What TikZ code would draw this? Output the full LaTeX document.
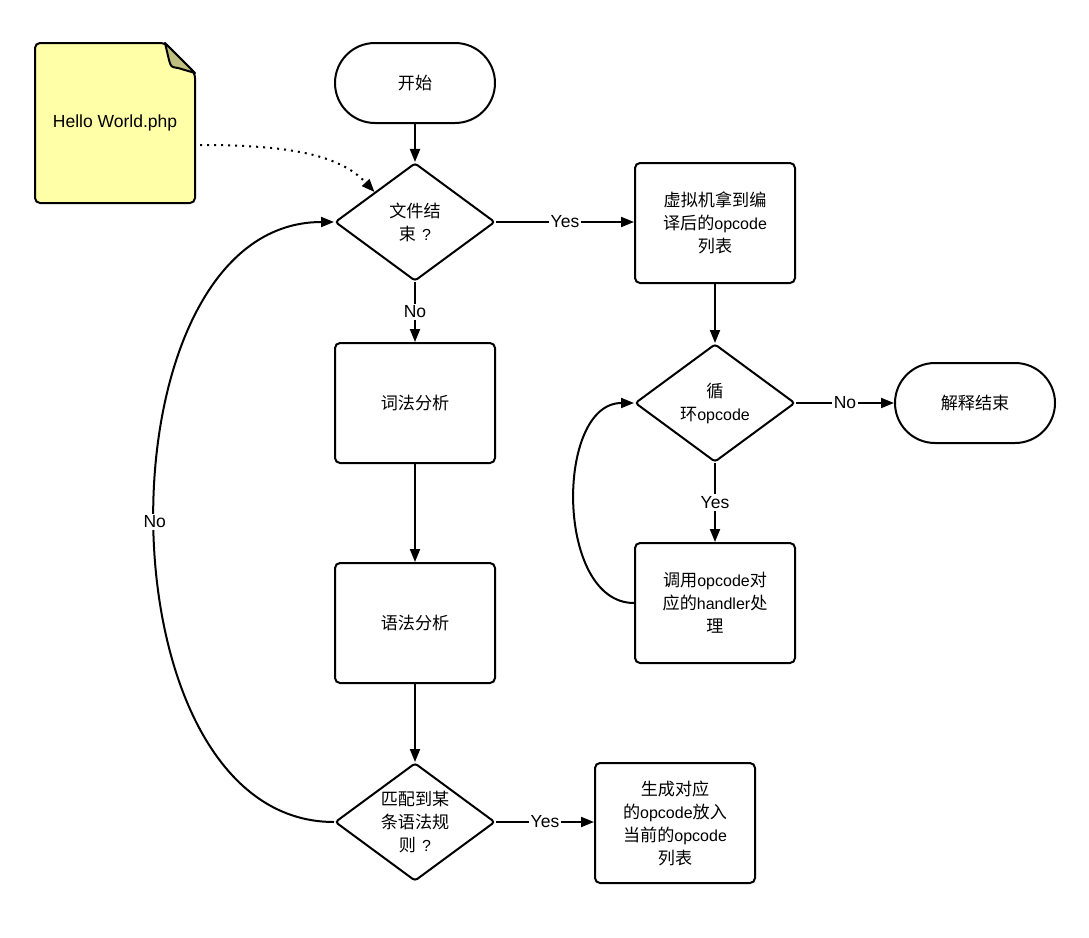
\documentclass[tikz,border=0pt]{standalone}
\usepackage{fontspec}
\setmainfont{Liberation Sans}
\newfontfamily\cjk{Noto Sans CJK SC}[Scale=1.07]
\usetikzlibrary{shapes.geometric,arrows.meta}
\newcommand\zh[1]{{\cjk #1}}
\definecolor{noteyellow}{HTML}{FFFFA8}
\definecolor{notefold}{HTML}{BEBE80}
\begin{document}
\begin{tikzpicture}[x=1pt,y=-1pt,
  base/.style={draw=black, line width=2pt, font=\fontsize{16}{23}\selectfont, align=center, inner sep=0pt},
  proc/.style={base, rectangle, rounded corners=5pt, minimum width=160pt, minimum height=120pt},
  term/.style={base, rectangle, rounded corners=40pt, minimum width=160pt, minimum height=80pt},
  dia/.style={base, diamond, rounded corners=3pt, minimum width=160pt, minimum height=118pt},
  dtext/.style={font=\fontsize{16}{23}\selectfont, align=center, inner sep=0pt},
  conn/.style={line width=2pt, -{Triangle[length=13pt,width=10pt]}},
  lbl/.style={fill=white, inner sep=2pt, font=\fontsize{17.5}{20}\selectfont}
]
\useasboundingbox (0,0) rectangle (1089,937);

% note
\draw[line width=2pt, fill=noteyellow, rounded corners=5pt] (35,43) -- (165,43) -- (195,73) -- (195,203) -- (35,203) -- cycle;
\draw[line width=2pt, fill=notefold, line join=round] (165,43) -- (169,60) .. controls (171,67) .. (178,68) -- (195,73) -- cycle;
\node[inner sep=0pt, minimum width=160pt, minimum height=160pt, font=\fontsize{17.5}{20}\selectfont] (php) at (115,123) {Hello World.php};

% nodes
\node[term] (start) at (415,83) {\zh{开始}};
\node[dia] (d1) at (415,222) {};
\node[dtext] at (d1) {\zh{文件结}\\\zh{束}\hspace{6pt}?};
\node[proc] (vm) at (715,223) {\zh{虚拟机拿到编}\\\zh{译后的}opcode\\\zh{列表}};
\node[proc] (lex) at (415,403) {\zh{词法分析}};
\node[proc] (syn) at (415,623) {\zh{语法分析}};
\node[dia] (d2) at (415,822) {};
\node[dtext] at (d2) {\zh{匹配到某}\\\zh{条语法规}\\\zh{则}\hspace{6pt}?};
\node[proc] (gen) at (675,823) {\zh{生成对应}\\\zh{的}opcode\zh{放入}\\\zh{当前的}opcode\\\zh{列表}};
\node[dia] (d3) at (715,403) {};
\node[dtext] at (d3) {\zh{循}\\\zh{环}opcode};
\node[term] (end) at (975,403) {\zh{解释结束}};
\node[proc] (hdl) at (715,603) {\zh{调用}opcode\zh{对}\\\zh{应的}handler\zh{处}\\\zh{理}};

% connectors
\draw[conn] (start) -- (d1);
\draw[conn, dash pattern=on 2pt off 5pt] ([shift={(5,22)}]php.east) .. controls (290,145) and (340,155) .. (d1.north west);
\draw[conn] (d1.east) -- node[lbl]{Yes} (d1.east -| vm.west);
\draw[conn] (d1) -- node[lbl]{No} (lex);
\draw[conn] (lex) -- (syn);
\draw[conn] (syn) -- (d2);
\draw[conn] (d2.east) -- node[lbl]{Yes} (d2.east -| gen.west);
\draw[conn] (d2.west) .. controls (95,822) and (95,222) .. node[lbl]{No} (d1.west);
\draw[conn] (vm) -- (d3);
\draw[conn] (d3) -- node[lbl]{No} (end);
\draw[conn] (d3) -- node[lbl]{Yes} (hdl);
\draw[conn] (hdl.west) .. controls (555,603) and (555,403) .. (d3.west);
\end{tikzpicture}
\end{document}
